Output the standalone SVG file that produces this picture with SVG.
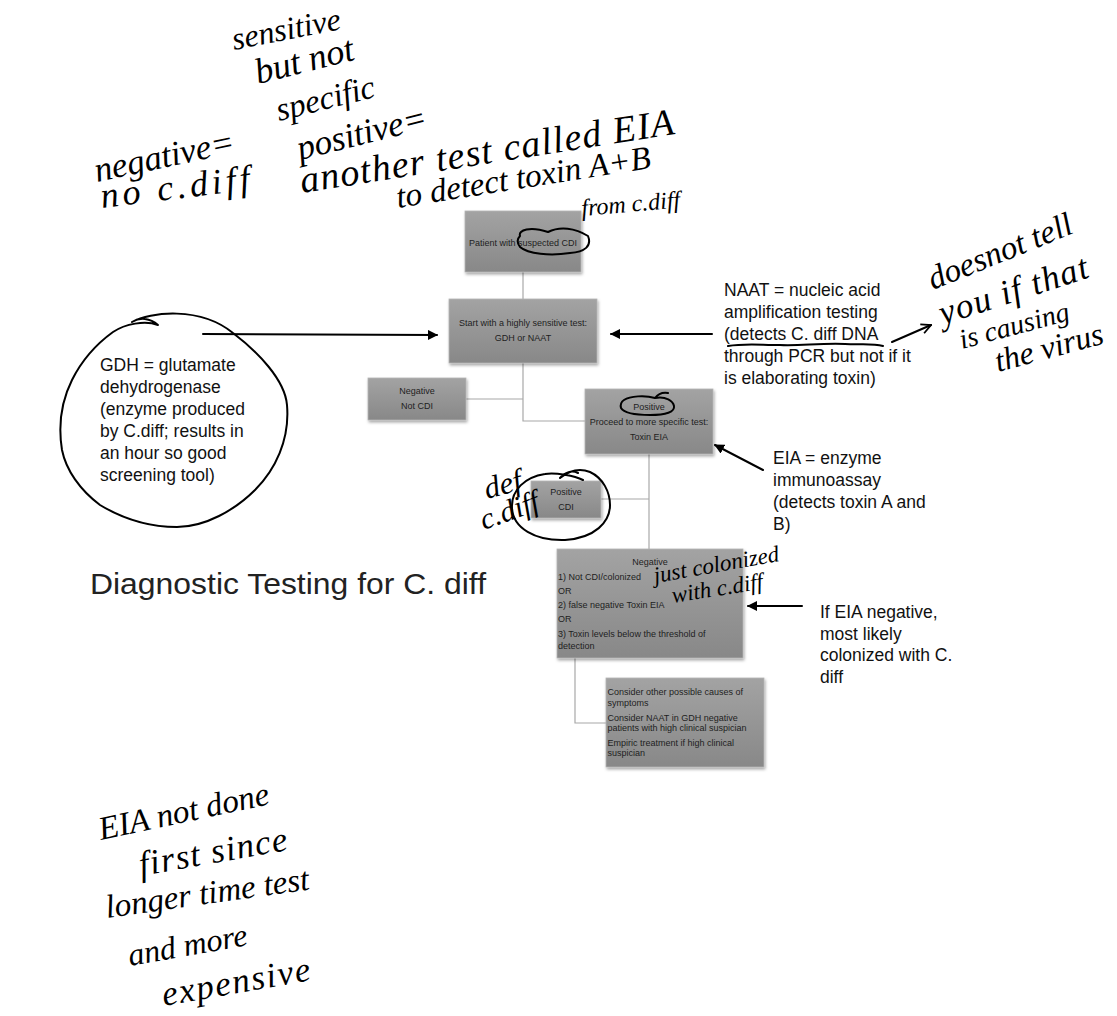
<svg xmlns="http://www.w3.org/2000/svg" width="1117" height="1016" viewBox="0 0 1117 1016">
<style>
.box{fill:url(#g);stroke:#b4b4b4;stroke-width:0.8}
.bt{font-family:"Liberation Sans",Arial,sans-serif;font-size:9px;fill:#1e1e1e}
.c{text-anchor:middle}
.ann{font-family:"Liberation Sans",Arial,sans-serif;font-size:17.5px;fill:#111}
.hw{font-family:"Liberation Serif","Times New Roman",serif;font-style:italic;font-size:31px;fill:#000}
.conn{stroke:#a8a8a8;stroke-width:1.2;fill:none}
.ink{stroke:#000;stroke-width:2;fill:none;stroke-linecap:round;stroke-linejoin:round}
</style>
<defs>
<linearGradient id="g" x1="0" y1="0" x2="0" y2="1">
<stop offset="0" stop-color="#a3a3a3"/>
<stop offset="1" stop-color="#888888"/>
</linearGradient>
<filter id="sh" x="-10%" y="-10%" width="130%" height="130%">
<feDropShadow dx="1" dy="2" stdDeviation="1.5" flood-color="#000" flood-opacity="0.35"/>
</filter>
<marker id="ah" viewBox="0 0 10 10" refX="9" refY="5" markerWidth="5" markerHeight="5" orient="auto">
<path d="M0,0 L10,5 L0,10 z" fill="#000"/>
</marker>
<marker id="oh" viewBox="0 0 10 10" refX="9" refY="5" markerWidth="6" markerHeight="6" orient="auto">
<path d="M1,1 L9,5 L1,9" fill="none" stroke="#000" stroke-width="1.5"/>
</marker>
</defs>
<rect width="1117" height="1016" fill="#fff"/>

<g id="connectors">
<path class="conn" d="M523,272 V299"/>
<path class="conn" d="M523,363 V421 H585"/>
<path class="conn" d="M466,399 H523"/>
<path class="conn" d="M649,454 V549"/>
<path class="conn" d="M601,499 H649"/>
<path class="conn" d="M575,658 V723 H606"/>
<line class="ink" x1="203" y1="334" x2="437" y2="335" marker-end="url(#ah)"/>
<line class="ink" x1="712" y1="334" x2="611" y2="334" marker-end="url(#ah)"/>
<line class="ink" x1="763" y1="470" x2="715" y2="445" marker-end="url(#ah)"/>
<line class="ink" x1="802" y1="606" x2="748" y2="606" marker-end="url(#ah)"/>
</g>

<g id="n-patient">
<rect class="box" x="465" y="211" width="116" height="61" filter="url(#sh)"/>
<text class="bt c" x="523" y="246">Patient with suspected CDI</text>
</g>
<g id="n-start">
<rect class="box" x="449" y="299" width="148" height="64" filter="url(#sh)"/>
<text class="bt c" x="523" y="326">Start with a highly sensitive test:</text>
<text class="bt c" x="523" y="341">GDH or NAAT</text>
</g>
<g id="n-neg1">
<rect class="box" x="368" y="378" width="98" height="42" filter="url(#sh)"/>
<text class="bt c" x="417" y="394">Negative</text>
<text class="bt c" x="417" y="409">Not CDI</text>
</g>
<g id="n-pos1">
<rect class="box" x="585" y="389" width="128" height="65" filter="url(#sh)"/>
<text class="bt c" x="649" y="410">Positive</text>
<text class="bt c" x="649" y="425">Proceed to more specific test:</text>
<text class="bt c" x="649" y="439.5">Toxin EIA</text>
</g>
<g id="n-pos2">
<rect class="box" x="531" y="481" width="70" height="37" filter="url(#sh)"/>
<text class="bt c" x="566" y="495">Positive</text>
<text class="bt c" x="566" y="509.5">CDI</text>
</g>
<g id="n-neg2">
<rect class="box" x="557" y="549" width="186" height="109" filter="url(#sh)"/>
<text class="bt c" x="650" y="565">Negative</text>
<text class="bt" x="558" y="579.5">1) Not CDI/colonized</text>
<text class="bt" x="558" y="593.5">OR</text>
<text class="bt" x="558" y="608">2) false negative Toxin EIA</text>
<text class="bt" x="558" y="622">OR</text>
<text class="bt" x="558" y="636.5">3) Toxin levels below the threshold of</text>
<text class="bt" x="558" y="648.5">detection</text>
</g>
<g id="n-consider">
<rect class="box" x="606" y="678" width="158" height="89" filter="url(#sh)"/>
<text class="bt" x="607.5" y="694.5">Consider other possible causes of</text>
<text class="bt" x="607.5" y="705.5">symptoms</text>
<text class="bt" x="607.5" y="720.5">Consider NAAT in GDH negative</text>
<text class="bt" x="607.5" y="730.5">patients with high clinical suspician</text>
<text class="bt" x="607.5" y="745.5">Empiric treatment if high clinical</text>
<text class="bt" x="607.5" y="756">suspician</text>
</g>

<g id="title">
<text x="90" y="594" font-family="Liberation Sans,Arial,sans-serif" font-size="29" fill="#222" textLength="396" lengthAdjust="spacingAndGlyphs">Diagnostic Testing for C. diff</text>
</g>

<g id="note-gdh">
<text class="ann" x="100" y="371">GDH = glutamate</text>
<text class="ann" x="100" y="393">dehydrogenase</text>
<text class="ann" x="100" y="415">(enzyme produced</text>
<text class="ann" x="100" y="437">by C.diff; results in</text>
<text class="ann" x="100" y="459">an hour so good</text>
<text class="ann" x="100" y="481">screening tool)</text>
<path class="ink" d="M113,332 C125,324 145,320 158,325 C150,318 140,317 132,322 M132,322 C150,312 200,306 233,333 C258,352 285,380 287,405 C290,440 275,470 255,490 C235,510 205,527 177,527 C150,527 125,520 100,505 C80,490 66,470 62,450 C58,425 62,400 72,380 C82,360 95,345 113,332"/>
</g>

<g id="note-naat">
<text class="ann" x="724" y="296">NAAT = nucleic acid</text>
<text class="ann" x="724" y="318">amplification testing</text>
<text class="ann" x="724" y="340">(detects C. diff DNA</text>
<text class="ann" x="724" y="362">through PCR but not if it</text>
<text class="ann" x="724" y="384">is elaborating toxin)</text>
<path class="ink" stroke-width="1.4" d="M728,346 C745,343 760,345 780,345 C800,346 820,343 845,344 C860,345 872,343 883,346"/>
<line class="ink" stroke-width="1.6" x1="892" y1="342" x2="931" y2="325" marker-end="url(#oh)"/>
</g>

<g id="note-eia">
<text class="ann" x="773" y="464">EIA = enzyme</text>
<text class="ann" x="773" y="486">immunoassay</text>
<text class="ann" x="773" y="508">(detects toxin A and</text>
<text class="ann" x="773" y="530">B)</text>
</g>

<g id="note-ifeia">
<text class="ann" x="820" y="618">If EIA negative,</text>
<text class="ann" x="820" y="640">most likely</text>
<text class="ann" x="820" y="661">colonized with C.</text>
<text class="ann" x="820" y="683">diff</text>
</g>

<g id="handwriting">
<path class="ink" stroke-width="1.8" d="M520,236 C518,230 530,226 548,232 C560,226 575,228 588,236 C592,246 585,252 570,253 C550,256 528,254 520,247 C517,243 517,239 520,236"/>
<path class="ink" stroke-width="1.8" d="M624,400 C630,396 645,395 655,398 C666,396 673,401 674,406 C675,412 666,415 650,415 C635,415 624,413 621,408 C620,404 621,402 624,400 M655,398 C658,394 662,392 668,393"/>
<path class="ink" stroke-width="1.8" d="M560,478 C570,470 580,468 590,472 C603,478 610,492 610,505 C610,522 595,538 565,540 C535,541 513,528 512,508 C511,490 525,477 545,474 C555,472 575,476 583,480 M560,478 C565,472 572,470 578,473"/>
<text class="hw" style="font-size:32px" transform="translate(234,50) rotate(-11)">sensitive</text>
<text class="hw" style="font-size:36px" transform="translate(258,84) rotate(-14)">but not</text>
<text class="hw" style="font-size:33px" transform="translate(279,121) rotate(-14)">specific</text>
<text class="hw" style="font-size:35px" transform="translate(97,182) rotate(-12)">negative=</text>
<text class="hw" style="font-size:36px" transform="translate(102,208) rotate(-7)" textLength="150">no c.diff</text>
<text class="hw" style="font-size:35px" transform="translate(300,160) rotate(-14)">positive=</text>
<text class="hw" style="font-size:38px" transform="translate(302,193) rotate(-9)" textLength="378">another test called EIA</text>
<text class="hw" style="font-size:33px" transform="translate(398,208) rotate(-9)">to detect toxin A+B</text>
<text class="hw" style="font-size:24px" transform="translate(582,216) rotate(-5)">from c.diff</text>
<text class="hw" style="font-size:33px" transform="translate(933,290) rotate(-22)">doesnot tell</text>
<text class="hw" style="font-size:35px" transform="translate(943,325) rotate(-18)" textLength="155">you if that</text>
<text class="hw" style="font-size:28px" transform="translate(962,349) rotate(-15)">is causing</text>
<text class="hw" style="font-size:32px" transform="translate(998,372) rotate(-15)">the virus</text>
<text class="hw" transform="translate(487,499) rotate(-15)">def</text>
<text class="hw" style="font-size:30px" transform="translate(484,530) rotate(-20)">c.diff</text>
<text class="hw" style="font-size:23px" transform="translate(655,583) rotate(-10)">just colonized</text>
<text class="hw" style="font-size:23px" transform="translate(673,603) rotate(-9)">with c.diff</text>
<text class="hw" style="font-size:33px" transform="translate(101,840) rotate(-12)">EIA not done</text>
<text class="hw" style="font-size:35px" transform="translate(141,876) rotate(-10)" textLength="150">first since</text>
<text class="hw" style="font-size:33px" transform="translate(107,918) rotate(-8)">longer time test</text>
<text class="hw" style="font-size:32px" transform="translate(130,966) rotate(-10)">and more</text>
<text class="hw" style="font-size:35px" transform="translate(164,1006) rotate(-10)" textLength="150">expensive</text>
</g>
</svg>
